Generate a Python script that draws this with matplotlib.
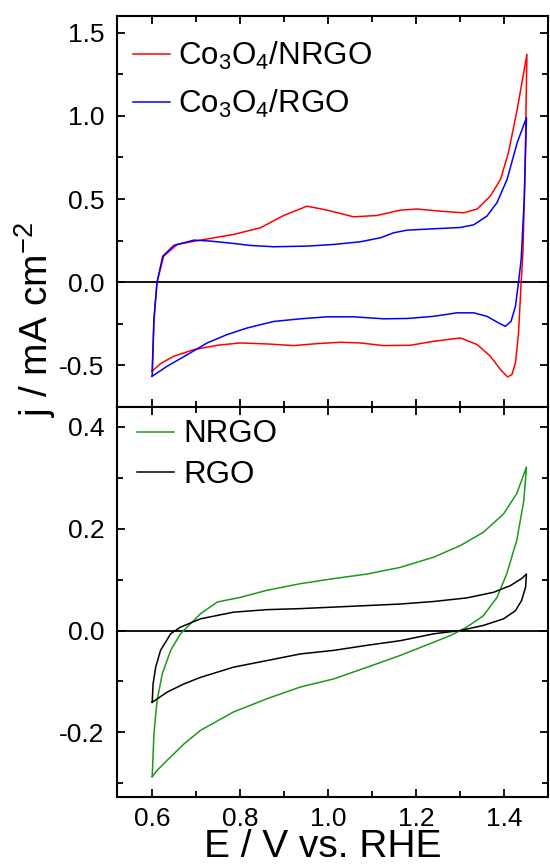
import matplotlib
matplotlib.use("Agg")
import matplotlib.pyplot as plt
from matplotlib.ticker import MultipleLocator

plt.rcParams['font.family'] = ['Liberation Sans', 'DejaVu Sans']
plt.rcParams['mathtext.fontset'] = 'custom'
plt.rcParams['mathtext.rm'] = 'Liberation Sans'
plt.rcParams['mathtext.it'] = 'Liberation Sans:italic'
plt.rcParams['mathtext.bf'] = 'Liberation Sans:bold'

# ---------------- data ----------------
# Co3O4/NRGO (red): anodic then cathodic
nrgo_co_E = [0.600, 0.604, 0.611, 0.626, 0.657, 0.710, 0.785, 0.846, 0.899, 0.952, 0.998,
             1.058, 1.111, 1.164, 1.202, 1.255, 1.308, 1.339, 1.369, 1.392, 1.410, 1.430, 1.452,
             1.448, 1.443, 1.439, 1.433, 1.426, 1.418, 1.408, 1.392, 1.369, 1.339, 1.301, 1.240,
             1.187, 1.126, 1.073, 1.028, 0.975, 0.922, 0.861, 0.800, 0.748, 0.695, 0.649, 0.619, 0.600]
nrgo_co_j = [-0.535, -0.224, 0.000, 0.156, 0.227, 0.253, 0.287, 0.327, 0.401, 0.457, 0.433,
             0.393, 0.401, 0.433, 0.440, 0.427, 0.417, 0.440, 0.518, 0.618, 0.778, 1.039, 1.370,
             0.700, 0.180, 0.000, -0.305, -0.485, -0.555, -0.569, -0.525, -0.445, -0.375, -0.335, -0.355,
             -0.379, -0.381, -0.365, -0.361, -0.369, -0.381, -0.371, -0.365, -0.379, -0.405, -0.445, -0.489, -0.535]

# Co3O4/RGO (blue)
rgo_co_E = [0.600, 0.604, 0.611, 0.624, 0.649, 0.695, 0.733, 0.785, 0.823, 0.876, 0.952, 1.013,
            1.073, 1.119, 1.149, 1.180, 1.240, 1.301, 1.331, 1.361, 1.384, 1.407, 1.430, 1.451,
            1.446, 1.439, 1.433, 1.426, 1.416, 1.403, 1.388, 1.361, 1.331, 1.293, 1.240, 1.180,
            1.126, 1.058, 0.998, 0.937, 0.876, 0.816, 0.770, 0.725, 0.680, 0.634, 0.600]
rgo_co_j = [-0.565, -0.224, 0.000, 0.156, 0.221, 0.253, 0.247, 0.233, 0.221, 0.213, 0.217, 0.227,
            0.243, 0.267, 0.297, 0.313, 0.321, 0.329, 0.345, 0.397, 0.478, 0.618, 0.839, 0.989,
            0.498, 0.137, 0.000, -0.144, -0.235, -0.265, -0.245, -0.205, -0.184, -0.184, -0.205, -0.218,
            -0.220, -0.208, -0.208, -0.220, -0.236, -0.275, -0.315, -0.365, -0.435, -0.505, -0.565]

# NRGO (green)
nrgo_E = [0.600, 0.604, 0.611, 0.623, 0.642, 0.664, 0.679, 0.710, 0.748, 0.800, 0.861, 0.937,
          1.013, 1.089, 1.164, 1.240, 1.301, 1.353, 1.399, 1.429, 1.451,
          1.445, 1.429, 1.406, 1.384, 1.353, 1.315, 1.278, 1.240, 1.164, 1.089, 1.013, 0.937,
          0.861, 0.785, 0.710, 0.672, 0.634, 0.611, 0.600]
nrgo_j = [-0.287, -0.203, -0.138, -0.085, -0.039, -0.007, 0.0065, 0.033, 0.056, 0.065, 0.079, 0.092,
          0.102, 0.111, 0.124, 0.144, 0.167, 0.193, 0.229, 0.269, 0.321,
          0.255, 0.177, 0.111, 0.065, 0.029, 0.0065, -0.010, -0.023, -0.049, -0.072, -0.095, -0.111,
          -0.134, -0.160, -0.196, -0.223, -0.255, -0.275, -0.287]

# RGO (black)
rgo_E = [0.600, 0.602, 0.608, 0.619, 0.642, 0.664, 0.710, 0.785, 0.861, 0.937, 1.013, 1.089,
         1.164, 1.240, 1.315, 1.376, 1.414, 1.440, 1.451,
         1.449, 1.440, 1.426, 1.399, 1.353, 1.301, 1.240, 1.164, 1.089, 1.013, 0.937, 0.861,
         0.785, 0.710, 0.672, 0.634, 0.600]
rgo_j = [-0.141, -0.105, -0.072, -0.039, -0.0065, 0.0065, 0.023, 0.036, 0.041, 0.043, 0.046, 0.049,
         0.052, 0.057, 0.064, 0.075, 0.088, 0.102, 0.111,
         0.085, 0.059, 0.039, 0.023, 0.010, 0.000, -0.0065, -0.020, -0.029, -0.039, -0.046, -0.059,
         -0.072, -0.092, -0.105, -0.121, -0.141]

top_labels = ['Co$_\\mathregular{3}$O$_\\mathregular{4}$/NRGO', 'Co$_\\mathregular{3}$O$_\\mathregular{4}$/RGO']
bottom_labels = ['NRGO', 'RGO']
x_ticks = [0.6, 0.8, 1.0, 1.2, 1.4]
top_yticks = [-0.5, 0.0, 0.5, 1.0, 1.5]
bottom_yticks = [-0.2, 0.0, 0.2, 0.4]

# ---------------- figure ----------------
fig = plt.figure(figsize=(5.5, 8.68), dpi=100)
L, R = 117 / 550, 548 / 550
T, M, B = 1 - 16 / 868, 1 - 407 / 868, 1 - 797 / 868
ax1 = fig.add_axes([L, M, R - L, T - M])
ax2 = fig.add_axes([L, B, R - L, M - B], sharex=ax1)

lw = 1.1
ax1.axhline(0, color='black', lw=1.3, zorder=1)
ax1.plot(nrgo_co_E, nrgo_co_j, color='#ff0000', lw=lw, label=top_labels[0])
ax1.plot(rgo_co_E, rgo_co_j, color='#0000ff', lw=lw, label=top_labels[1])

ax2.axhline(0, color='black', lw=1.3, zorder=1)
ax2.plot(nrgo_E, nrgo_j, color='#1a9a1a', lw=lw, label=bottom_labels[0])
ax2.plot(rgo_E, rgo_j, color='black', lw=lw, label=bottom_labels[1])

ax1.set_xlim(0.52, 1.50)
ax1.set_ylim(-0.75, 1.60)
ax2.set_ylim(-0.327, 0.439)

ax1.set_xticks(x_ticks)
ax1.xaxis.set_minor_locator(MultipleLocator(0.1))
ax1.set_yticks(top_yticks)
ax1.yaxis.set_minor_locator(MultipleLocator(0.25))
ax2.set_yticks(bottom_yticks)
ax2.yaxis.set_minor_locator(MultipleLocator(0.1))

ax1.set_yticklabels([f'{v:.1f}' for v in top_yticks])
ax2.set_yticklabels([f'{v:.1f}' for v in bottom_yticks])
ax2.set_xticklabels([f'{v:.1f}' for v in x_ticks])

for ax in (ax1, ax2):
    for s in ax.spines.values():
        s.set_linewidth(1.5)
    ax.tick_params(which='both', direction='in', top=True, right=True, width=1.3, labelsize=19)
    ax.tick_params(axis='y', pad=9)
    ax.tick_params(axis='x', pad=7)
    ax.tick_params(which='major', length=6)
    ax.tick_params(which='minor', length=4)
ax1.tick_params(labelbottom=False)

leg1 = ax1.legend(loc='upper left', bbox_to_anchor=(0.008, 0.97), frameon=False, fontsize=22.5,
                  handlelength=1.18, handletextpad=0.25, labelspacing=0.51, borderaxespad=0)
leg2 = ax2.legend(loc='upper left', bbox_to_anchor=(0.017, 1.0), frameon=False, fontsize=22.5,
                  handlelength=1.18, handletextpad=0.3, labelspacing=0.33, borderaxespad=0)

fig.text(323 / 550, 1 - 857 / 868, 'E / V vs. RHE', ha='center', va='baseline', fontsize=28)
fig.text(35 / 550, 1 - 320 / 868, 'j / mA cm$^\\mathregular{-2}$', ha='center', va='center',
         rotation=90, fontsize=28)

fig.savefig('out.png', dpi=100)
